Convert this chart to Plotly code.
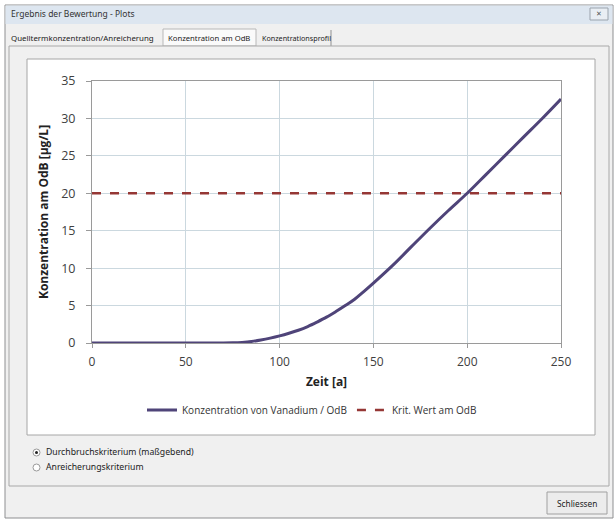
import plotly.graph_objects as go

# ---- data ----
zeit = [0, 10, 20, 30, 40, 50, 60, 70, 75, 80, 85, 90, 95, 100, 105, 110, 115, 120, 125,
        130, 135, 140, 145, 150, 160, 170, 180, 190, 200, 210, 220, 230, 240, 250]
konz_vanadium = [0, 0, 0, 0, 0, 0, 0, 0, 0.02, 0.08, 0.2, 0.4, 0.65, 0.95, 1.3, 1.7, 2.2,
                 2.8, 3.45, 4.2, 5.0, 5.85, 6.9, 8.0, 10.3, 12.8, 15.3, 17.7, 20.0, 22.5,
                 25.0, 27.5, 30.0, 32.6]
krit_x = [0, 250]
krit_wert = [20, 20]
x_ticks = [0, 50, 100, 150, 200, 250]
y_ticks = [0, 5, 10, 15, 20, 25, 30, 35]

W, H = 614, 519
L, R, T, B = 92, 53, 81, 176
PW, PH = W - L - R, H - T - B


def px(x):
    return (x - L) / PW


def py(y):
    return (H - B - y) / PH


fig = go.Figure()
fig.add_trace(go.Scatter(x=zeit, y=konz_vanadium, mode="lines", line_shape="spline",
                         name="Konzentration von Vanadium / OdB",
                         line=dict(color="#4f4479", width=3)))
fig.add_trace(go.Scatter(x=krit_x, y=krit_wert, mode="lines",
                         name="Krit. Wert am OdB",
                         line=dict(color="#953735", width=2.5, dash="dash")))

shapes = []
annos = []


def rect(x0, y0, x1, y1, fill, line="#a0a0a0", lw=1, layer="below"):
    shapes.append(dict(type="rect", xref="paper", yref="paper", x0=px(x0), x1=px(x1),
                       y0=py(y1), y1=py(y0), fillcolor=fill,
                       line=dict(color=line, width=lw), layer=layer))


def vline(x, y0, y1, color="#a0a0a0", lw=1):
    shapes.append(dict(type="line", xref="paper", yref="paper", x0=px(x), x1=px(x),
                       y0=py(y0), y1=py(y1), line=dict(color=color, width=lw), layer="below"))


def text(x, y, s, size=9, anchor="left", color="#222", font="Noto Sans"):
    annos.append(dict(xref="paper", yref="paper", x=px(x), y=py(y), text=s, showarrow=False,
                      xanchor=anchor, yanchor="middle",
                      font=dict(size=size, color=color, family=font)))


# window
rect(5, 5, 613, 518, "#f0f0f0", "#8e8f91")
rect(5.5, 5.5, 612.5, 24, "#dde6f0", "#dde6f0", 0)
text(9, 14, "Ergebnis der Bewertung - Plots", size=8.5, color="#333")
rect(590, 8, 608, 20, "#e9eef4", "#9aa3ad")
text(599, 14, "✕", size=7, anchor="center", color="#555")
# tabs
rect(163, 29, 256, 46, "#fafafa", "#b8b8b8")
text(9, 38, "Quelltermkonzentration/Anreicherung", size=7.9)
text(166, 38, "Konzentration am OdB", size=7.7)
text(260, 38, "Konzentrationsprofil", size=7.2)
vline(331, 30, 46, "#909090")
# tab panel
rect(9, 46, 609, 486, "#f0f0f0", "#a8a8a8")
# chart box
rect(27, 59, 595, 435, "#ffffff", "#a6a6a6")
# radios
shapes.append(dict(type="circle", xref="paper", yref="paper", x0=px(33), x1=px(40),
                   y0=py(456), y1=py(449), fillcolor="#ffffff",
                   line=dict(color="#9a9a9a", width=1)))
shapes.append(dict(type="circle", xref="paper", yref="paper", x0=px(35), x1=px(38),
                   y0=py(454), y1=py(451), fillcolor="#222222",
                   line=dict(color="#222222", width=0)))
shapes.append(dict(type="circle", xref="paper", yref="paper", x0=px(33), x1=px(40),
                   y0=py(471), y1=py(464), fillcolor="#ffffff",
                   line=dict(color="#9a9a9a", width=1)))
text(44, 452, "Durchbruchskriterium (maßgebend)", size=8.7)
text(44, 467, "Anreicherungskriterium", size=8.7)
# button
rect(547, 492, 607, 514, "#ececec", "#a0a0a0")
text(577, 503, "Schliessen", size=8.3, anchor="center")

fig.update_layout(
    width=W, height=H,
    margin=dict(l=L, r=R, t=T, b=B),
    paper_bgcolor="#ffffff",
    plot_bgcolor="#daeaf2",
    shapes=shapes,
    annotations=annos,
    font=dict(family="Open Sans", color="#333"),
    showlegend=True,
    legend=dict(orientation="h", xanchor="center", x=px(312), y=py(410), yanchor="middle",
                font=dict(size=10, color="#333"), bgcolor="rgba(0,0,0,0)",
                itemwidth=30, tracegroupgap=0),
    xaxis=dict(range=[0, 250], tickvals=x_ticks, showgrid=True, gridcolor="#cbd8df",
               showline=True, linecolor="#9a9a9a", mirror=True, ticks="outside",
               ticklen=4, tickcolor="#9a9a9a", zeroline=False, ticklabelstandoff=4,
               tickfont=dict(size=12, color="#404040"),
               title=dict(text="<b>Zeit [a]</b>", font=dict(size=12, color="#222"), standoff=8)),
    yaxis=dict(range=[0, 35], tickvals=y_ticks, showgrid=True, gridcolor="#cbd8df",
               showline=True, linecolor="#9a9a9a", mirror=True, ticks="outside",
               ticklen=5, tickcolor="#9a9a9a", zeroline=False, ticklabelstandoff=8,
               tickfont=dict(size=12.5, color="#404040"),
               title=dict(text="<b>Konzentration am OdB [µg/L]</b>",
                          font=dict(size=12, color="#222"), standoff=10)),
)

fig.write_html("out.html", config={"displayModeBar": False},
               post_script="document.body.style.margin='0';document.body.style.overflow='hidden';")
